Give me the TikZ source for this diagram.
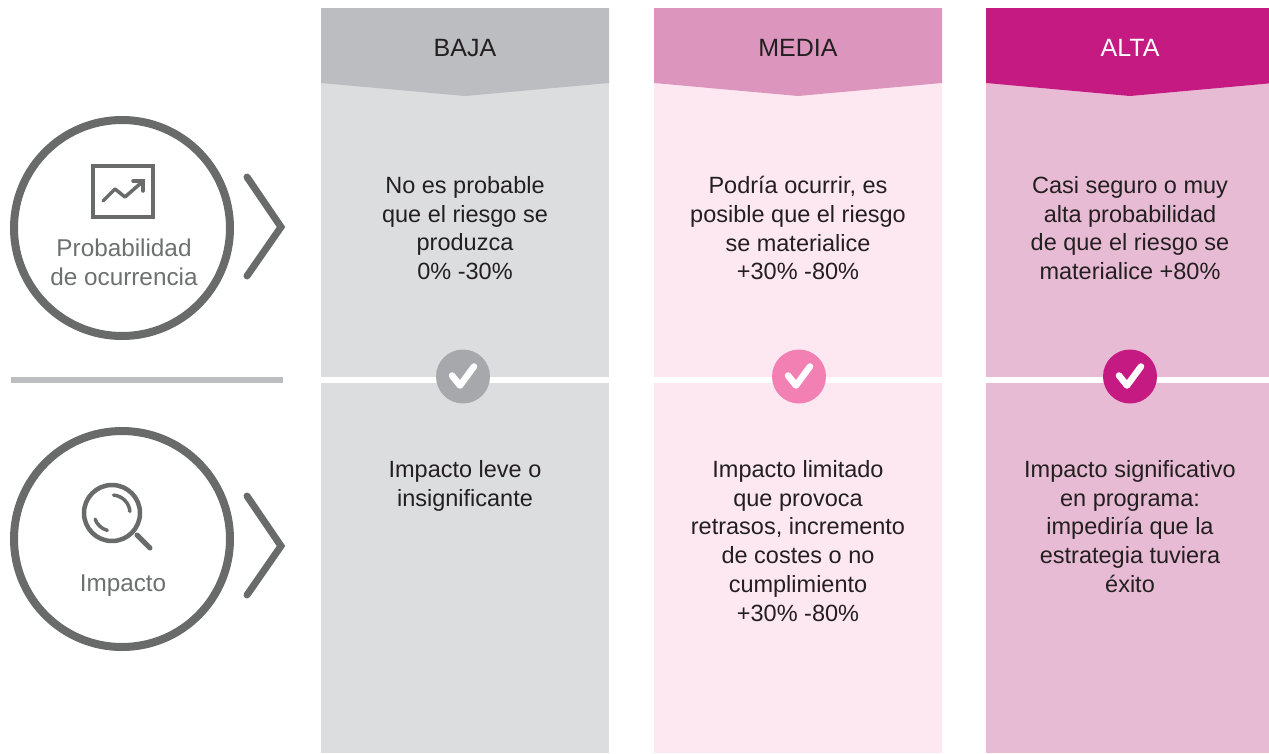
\documentclass[tikz,border=0pt]{standalone}
\usepackage{fontspec}
\setmainfont{Liberation Sans}
\definecolor{icongray}{HTML}{686B69}
\definecolor{labelgray}{HTML}{6D706F}
\definecolor{txt}{HTML}{231F20}
\definecolor{bajaH}{HTML}{BCBDC1}
\definecolor{bajaB}{HTML}{DCDDDF}
\definecolor{bajaC}{HTML}{A7A8AB}
\definecolor{mediaH}{HTML}{DC95BD}
\definecolor{mediaB}{HTML}{FDE8F1}
\definecolor{mediaC}{HTML}{F280B3}
\definecolor{altaH}{HTML}{C61A83}
\definecolor{altaB}{HTML}{E8BBD5}
\definecolor{altaC}{HTML}{C61A83}
\tikzset{
  bodytext/.style={align=center, anchor=north, inner sep=0pt, text=txt,
    font=\fontsize{23.5}{28.8}\selectfont},
  headtext/.style={anchor=base, inner sep=0pt, font=\fontsize{25}{30}\selectfont},
  sidelabel/.style={align=center, anchor=north, inner sep=0pt, text=labelgray,
    font=\fontsize{24.3}{28.5}\selectfont},
  ring/.style={draw=icongray, line width=8pt},
  chev/.style={draw=icongray, line width=7pt, line cap=round},
  iconline/.style={draw=icongray, line width=4pt},
  checkdisc/.style={circle, minimum size=54pt, inner sep=0pt},
  checkmark/.style={draw=white, line width=6.5pt, line cap=round, line join=round},
}
\begin{document}
\begin{tikzpicture}[x=1pt,y=-1pt]
\useasboundingbox (0,0) rectangle (1269,753);
\fill[white] (0,0) rectangle (1269,753);

% ---------- columns ----------
% BAJA
\fill[bajaB] (321,83) rectangle (609,753);
\fill[bajaH] (321,8) -- (609,8) -- (609,83) -- (465,96) -- (321,83) -- cycle;
% MEDIA
\fill[mediaB] (654,83) rectangle (942,753);
\fill[mediaH] (654,8) -- (942,8) -- (942,83) -- (798,96) -- (654,83) -- cycle;
% ALTA
\fill[altaB] (986,83) rectangle (1269,753);
\fill[altaH] (986,8) -- (1269,8) -- (1269,83.4) -- (1130,96) -- (986,83) -- cycle;

% white dividers
\fill[white] (321,377.3) rectangle (609,382.7);
\fill[white] (654,377.3) rectangle (942,382.7);
\fill[white] (986,377.3) rectangle (1269,382.7);
% left divider
\fill[bajaH] (11,377.3) rectangle (283,382.7);

% headers
\node[headtext, text=txt] (hbaja) at (465,56) {BAJA};
\node[headtext, text=txt] (hmedia) at (798,56) {MEDIA};
\node[headtext, text=white] (halta) at (1130,56) {ALTA};

% probability texts
\node[bodytext] (pbaja) at (465,176) {No es probable\\que el riesgo se\\produzca\\0\% -30\%};
\node[bodytext] (pmedia) at (798,176) {Podría ocurrir, es\\posible que el riesgo\\se materialice\\+30\% -80\%};
\node[bodytext] (palta) at (1130,176) {Casi seguro o muy\\alta probabilidad\\de que el riesgo se\\materialice +80\%};

% impact texts
\node[bodytext] (ibaja) at (465,460) {Impacto leve o\\insignificante};
\node[bodytext] (imedia) at (798,460) {Impacto limitado\\que provoca\\retrasos, incremento\\de costes o no\\cumplimiento\\+30\% -80\%};
\node[bodytext] (ialta) at (1130,460) {Impacto significativo\\en programa:\\impediría que la\\estrategia tuviera\\éxito};

% check discs
\foreach \cx/\col/\nm in {463/bajaC/cbaja, 799/mediaC/cmedia, 1130/altaC/calta}{
  \node[checkdisc, fill=\col] (\nm) at (\cx,376.5) {};
  \draw[checkmark] ([shift={(-11,-1)}]\nm.center) -- ([shift={(-3,9)}]\nm.center) -- ([shift={(11,-10)}]\nm.center);
}

% ---------- left: probability ----------
\node[circle, ring, minimum size=216pt, inner sep=0pt] (cprob) at (122,228) {};
\draw[chev] (247,177) -- (281,227) -- (247,276);
\draw[iconline] (93,166) rectangle (153,217);
\draw[draw=icongray, line width=3.5pt, line cap=round, line join=round]
  (103,201) -- (115,189) -- (125,197) -- (141,183);
\draw[draw=icongray, line width=3.5pt, line cap=round, line join=miter]
  (133,181) -- (143,181) -- (143,191);
\node[sidelabel] (lprob) at (124,239) {Probabilidad\\de ocurrencia};

% ---------- left: impact ----------
\node[circle, ring, minimum size=216pt, inner sep=0pt] (cimp) at (122,539) {};
\draw[chev] (247,496) -- (281,546) -- (247,595);
\node[circle, draw=icongray, line width=4.5pt, minimum size=56pt, inner sep=0pt] (lens) at (112,513) {};
\draw[draw=icongray, line width=5pt, line cap=round] (137,535) -- (150,548);
\draw[draw=icongray, line width=3.5pt, line cap=round] (lens.center) ++(105:18) arc[start angle=105, end angle=160, radius=18];
\draw[draw=icongray, line width=3.5pt, line cap=round] (lens.center) ++(-85:18) arc[start angle=-85, end angle=-5, radius=18];
\node[sidelabel] (limp) at (123,575) {Impacto};
\end{tikzpicture}
\end{document}
